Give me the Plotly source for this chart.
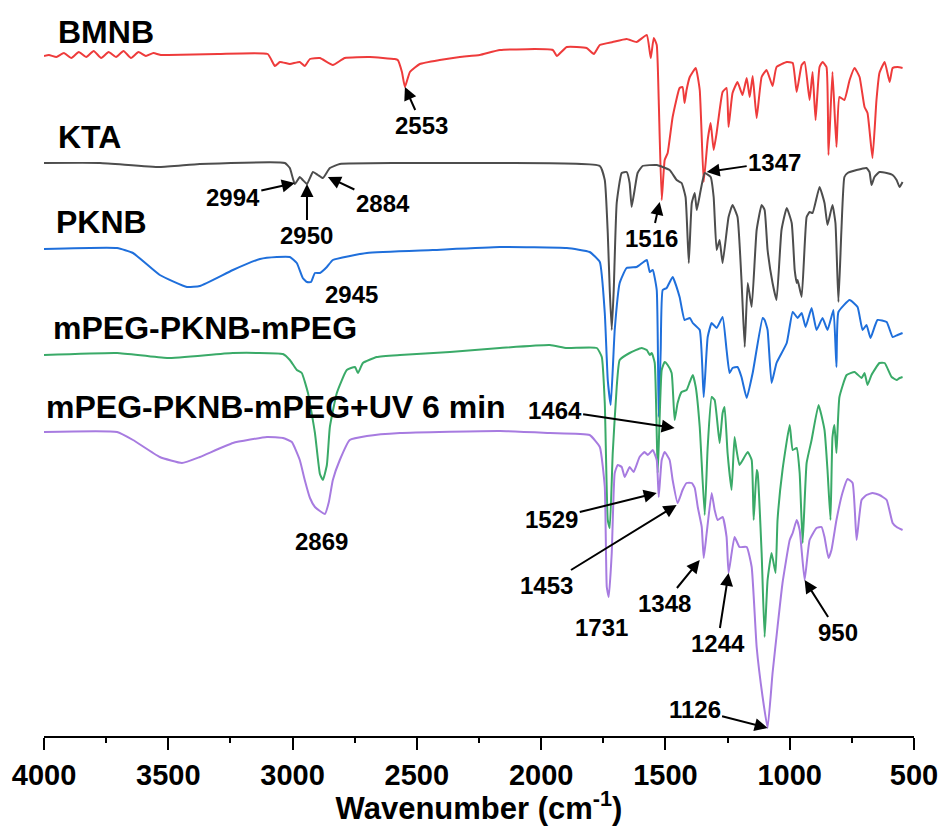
import plotly.graph_objects as go

# ---------------- data (wavenumber cm-1, offset intensity a.u.) ----------------
bmnb_wn = [4000, 3980, 3950, 3920, 3890, 3860, 3830, 3800, 3770, 3740, 3710, 3680, 3650, 3620, 3590, 3560, 3530,
           3500, 3300, 3100, 3071, 3051, 3011, 2971, 2951, 2930, 2890, 2838, 2790, 2689, 2589, 2577, 2560, 2548,
           2528, 2488, 2408, 2327, 2247, 2166, 1953, 1937, 1897, 1817, 1788, 1764, 1712, 1656, 1616, 1575, 1559,
           1547, 1535, 1527, 1515, 1503, 1491, 1471, 1443, 1431, 1423, 1415, 1402, 1378, 1362, 1346, 1330, 1318,
           1306, 1294, 1270, 1254, 1246, 1230, 1210, 1190, 1173, 1161, 1149, 1133, 1113, 1093, 1069, 1053, 1012,
           988, 972, 952, 940, 920, 908, 896, 880, 868, 852, 844, 828, 812, 800, 780, 759, 739, 719, 699, 687,
           667, 651, 639, 618, 598, 586, 566, 546]
bmnb_y = [680, 681, 679, 683, 678, 684, 679, 685, 678, 684, 679, 685, 678, 684, 680, 683, 681,
          681, 682, 682, 670, 674, 672, 674, 670, 677, 678, 671, 678, 679, 677, 676, 664, 649,
          664, 672, 676, 679, 681, 686, 686, 680, 689, 688, 682, 691, 694, 697, 694, 701, 678,
          698, 691, 636, 536, 576, 583, 619, 648, 649, 633, 646, 659, 668, 646, 554, 596, 613,
          586, 603, 644, 648, 609, 643, 654, 641, 658, 639, 660, 618, 659, 666, 650, 669, 674,
          673, 644, 671, 674, 636, 664, 616, 669, 674, 669, 581, 664, 589, 639, 636, 656, 668, 659, 629, 623,
          578, 636, 663, 674, 654, 668, 669, 668]

kta_wn = [4000, 3775, 3534, 3373, 3031, 3011, 2991, 2971, 2959, 2942, 2918, 2898, 2878, 2850, 2810, 2568, 2166,
          1764, 1744, 1732, 1724, 1716, 1708, 1696, 1676, 1656, 1644, 1636, 1624, 1612, 1592, 1535, 1483, 1455,
          1435, 1419, 1406, 1394, 1382, 1374, 1358, 1342, 1318, 1306, 1294, 1282, 1270, 1246, 1230, 1210, 1194,
          1181, 1169, 1153, 1133, 1113, 1101, 1089, 1069, 1053, 1033, 1012, 992, 980, 972, 968, 952, 932, 920,
          908, 880, 860, 848, 828, 816, 804, 792, 780, 767, 731, 691, 679, 671, 659, 639, 610, 586, 570, 558, 546]
kta_y = [573, 573, 569, 572, 573, 568, 552, 559, 556, 552, 564, 561, 558, 568, 572, 573, 573,
         570, 556, 503, 446, 406, 446, 533, 563, 564, 553, 529, 546, 563, 570, 571, 566, 556,
         553, 539, 473, 533, 543, 526, 546, 563, 559, 539, 486, 496, 473, 519, 531, 519, 456,
         389, 453, 429, 506, 531, 526, 486, 453, 436, 506, 528, 513, 466, 453, 456, 439, 519, 524,
         523, 549, 533, 511, 531, 513, 434, 506, 559, 563, 566, 568, 564, 551, 559, 564, 563, 561, 556, 549, 554]

pknb_wn = [4000, 3706, 3642, 3534, 3425, 3373, 3240, 3131, 3063, 3011, 2983, 2959, 2942, 2926, 2910, 2890, 2862,
           2838, 2701, 2436, 2166, 1897, 1805, 1764, 1744, 1732, 1720, 1704, 1684, 1656, 1616, 1604, 1575, 1563,
           1551, 1535, 1527, 1519, 1511, 1495, 1471, 1443, 1423, 1402, 1390, 1362, 1346, 1330, 1314, 1294, 1270,
           1254, 1242, 1230, 1210, 1194, 1173, 1149, 1109, 1101, 1089, 1073, 1053, 1012, 988, 968, 952, 936, 912,
           892, 868, 848, 824, 812, 804, 759, 727, 707, 691, 675, 647, 610, 586, 566, 546]
pknb_y = [487, 488, 483, 461, 449, 450, 466, 477, 479, 479, 473, 458, 454, 454, 463, 463, 469,
          476, 483, 486, 489, 488, 484, 474, 423, 356, 331, 406, 453, 468, 469, 471, 476, 464,
          466, 446, 319, 386, 446, 448, 459, 439, 416, 418, 413, 406, 339, 399, 413, 408, 419,
          386, 363, 368, 369, 359, 338, 363, 418, 416, 406, 353, 373, 393, 424, 418, 423, 409, 428,
          406, 418, 406, 426, 369, 424, 436, 429, 406, 411, 398, 416, 414, 399, 401, 403]

peg_wn = [4000, 3706, 3505, 3240, 3039, 3011, 2983, 2963, 2938, 2910, 2890, 2878, 2862, 2850, 2822, 2782, 2749,
          2737, 2717, 2661, 2568, 2367, 2166, 1965, 1897, 1776, 1756, 1744, 1732, 1724, 1712, 1696, 1684, 1644,
          1596, 1575, 1563, 1555, 1543, 1531, 1515, 1503, 1491, 1475, 1463, 1451, 1435, 1415, 1402, 1390, 1378,
          1362, 1342, 1330, 1314, 1302, 1282, 1270, 1262, 1250, 1234, 1222, 1214, 1202, 1169, 1153, 1145, 1133,
          1129, 1113, 1101, 1089, 1073, 1057, 1049, 1029, 1000, 988, 972, 960, 948, 932, 912, 884, 860, 848, 836,
          828, 820, 812, 800, 771, 739, 711, 699, 687, 671, 639, 618, 590, 570, 558, 546]
peg_y = [381, 383, 378, 383, 382, 376, 366, 363, 343, 303, 262, 256, 271, 309, 343, 366, 369,
         363, 373, 379, 381, 384, 388, 391, 388, 388, 379, 333, 216, 208, 283, 349, 376, 383,
         388, 386, 381, 383, 373, 263, 366, 374, 371, 363, 316, 333, 344, 346, 354, 361, 349,
         309, 221, 289, 339, 336, 293, 323, 329, 283, 246, 299, 286, 271, 284, 276, 216, 266,
         263, 183, 99, 156, 183, 163, 216, 266, 311, 286, 288, 263, 193, 273, 296, 331, 306, 266, 216,
         299, 311, 283, 339, 361, 364, 358, 363, 351, 361, 373, 373, 359, 356, 358, 359]

uv_wn = [4000, 3706, 3642, 3534, 3445, 3373, 3240, 3103, 3039, 3003, 2971, 2951, 2930, 2910, 2890, 2870, 2854,
         2838, 2810, 2770, 2701, 2568, 2166, 1965, 1805, 1764, 1744, 1736, 1728, 1716, 1704, 1692, 1676, 1664,
         1644, 1628, 1604, 1584, 1571, 1551, 1535, 1527, 1515, 1503, 1483, 1471, 1451, 1431, 1415, 1394, 1382,
         1370, 1354, 1346, 1334, 1314, 1302, 1290, 1270, 1254, 1246, 1222, 1202, 1173, 1153, 1133, 1109, 1089,
         1069, 1049, 1029, 1000, 988, 972, 960, 940, 920, 892, 872, 860, 844, 832, 812, 788, 767, 747, 731, 711,
         691, 667, 639, 610, 586, 570, 546]
uv_y = [304, 304, 296, 279, 273, 279, 293, 299, 298, 294, 276, 256, 238, 229, 225, 222, 234,
        256, 276, 296, 300, 303, 305, 303, 301, 289, 249, 149, 139, 183, 263, 271, 269, 259,
        269, 264, 279, 284, 281, 286, 276, 239, 276, 284, 276, 256, 233, 246, 253, 253, 248,
        229, 209, 178, 203, 243, 226, 216, 219, 199, 163, 199, 189, 189, 169, 89, 39, 8,
        63, 109, 153, 196, 203, 216, 206, 156, 196, 208, 209, 199, 178, 186, 216, 243, 257, 253, 196, 236,
        241, 243, 241, 236, 213, 209, 206]

series_names = ["BMNB", "KTA", "PKNB", "mPEG-PKNB-mPEG", "mPEG-PKNB-mPEG+UV 6 min"]
series_colors = ["#EE3B3B", "#4D4D4D", "#1F6FDB", "#3AAA68", "#A77BE0"]
series_label_y = [704, 599, 514, 408, 329]
series_label_x = [0.014, 0.014, 0.012, 0.008, 0.0]

# peak annotations: text, wavenumber, intensity of arrow tip, text offset (px)
peak_text = ["2553", "2994", "2950", "2884", "1516", "1347", "1464", "1529", "1453", "1348", "1244", "950", "1126"]
peak_wn = [2548, 2991, 2942, 2858, 1523, 1334, 1463, 1535, 1455, 1362, 1246, 940, 1089]
peak_y = [649, 553, 552, 559, 534, 564, 308, 243, 231, 176, 163, 156, 8]
peak_ax = [17, -62, 0, 55, -8, 68, -120, -105, -130, -35, -11, 33, -73]
peak_ay = [38, 14, 51, 26, 36, -10, -18, 26, 80, 43, 70, 52, -19]

plain_text = ["2945", "2869", "1731"]
plain_wn = [2762, 2882, 1756]
plain_y = [442, 195, 109]

# ---------------- figure ----------------
fig = go.Figure()
all_wn = [bmnb_wn, kta_wn, pknb_wn, peg_wn, uv_wn]
all_y = [bmnb_y, kta_y, pknb_y, peg_y, uv_y]
for name, col, xs, ys in zip(series_names, series_colors, all_wn, all_y):
    fig.add_trace(go.Scatter(x=xs, y=ys, mode="lines", name=name,
                             line=dict(color=col, width=2, shape="spline", smoothing=0.4),
                             showlegend=False))

FONT = "Liberation Sans, Arial, sans-serif"
annos = []
for name, lx, ly in zip(series_names, series_label_x, series_label_y):
    annos.append(dict(text=name, xref="paper", yref="y", x=lx, y=ly, xanchor="left", yanchor="middle",
                      showarrow=False, font=dict(family=FONT, size=32, color="black", weight="bold")))
for t, x, y, ax, ay in zip(peak_text, peak_wn, peak_y, peak_ax, peak_ay):
    annos.append(dict(text=t, x=x, y=y, xref="x", yref="y", ax=ax, ay=ay, showarrow=True,
                      arrowhead=2, arrowsize=1.3, arrowwidth=2, arrowcolor="black",
                      font=dict(family=FONT, size=24, color="black", weight="bold")))
for t, x, y in zip(plain_text, plain_wn, plain_y):
    annos.append(dict(text=t, x=x, y=y, xref="x", yref="y", showarrow=False,
                      font=dict(family=FONT, size=24, color="black", weight="bold")))

fig.update_layout(
    width=944, height=826,
    margin=dict(l=44, r=30, t=0, b=90),
    paper_bgcolor="white", plot_bgcolor="white",
    annotations=annos,
    xaxis=dict(range=[4000, 500], dtick=500, tick0=500, showline=True, linecolor="black", linewidth=2,
               ticks="outside", ticklen=12, tickwidth=2, tickcolor="black", showgrid=False, zeroline=False,
               minor=dict(dtick=250, ticks="outside", ticklen=5, tickwidth=2, tickcolor="black", showgrid=False),
               tickfont=dict(family=FONT, size=29, color="black", weight="bold"),
               title=dict(text="Wavenumber (cm<sup>-1</sup>)", standoff=2,
                          font=dict(family=FONT, size=31, color="black", weight="bold"))),
    yaxis=dict(range=[0, 736], visible=False, showgrid=False, zeroline=False),
)

fig.write_html("out.html")
